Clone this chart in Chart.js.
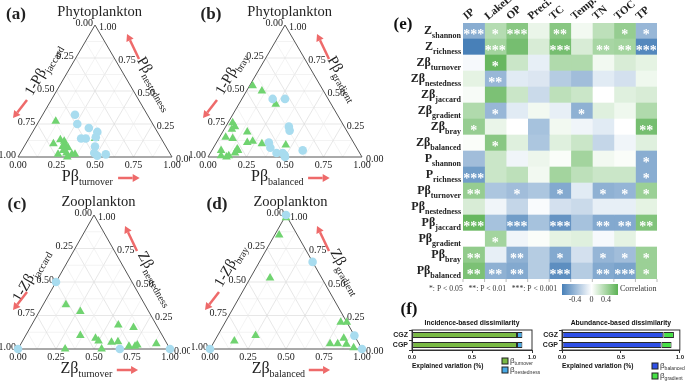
<!DOCTYPE html>
<html>
<head>
<meta charset="utf-8">
<script src="https://cdn.jsdelivr.net/npm/chart.js@4.4.1/dist/chart.umd.min.js"></script>
<style>
  html, body { margin: 0; padding: 0; background: #fff; }
  body { width: 685px; height: 381px; position: relative; overflow: hidden; }
  canvas { position: absolute; }
</style>
</head>
<body>
<canvas id="terA" width="190" height="190" style="left:0;top:0"></canvas>
<canvas id="terB" width="200" height="190" style="left:190px;top:0"></canvas>
<canvas id="terC" width="190" height="191" style="left:0;top:190px"></canvas>
<canvas id="terD" width="200" height="191" style="left:192px;top:190px"></canvas>
<canvas id="heat" width="325" height="320" style="left:360px;top:0"></canvas>
<canvas id="incid" width="160" height="69" style="left:380px;top:312px"></canvas>
<canvas id="abund" width="155" height="69" style="left:530px;top:312px"></canvas>
<script>
// ternary data: bottom axis value + right axis value (the rest is similarity)
// (a) phytoplankton, incidence based
const aTriTurn = [0.11, 0.18, 0.21, 0.24, 0.26, 0.25, 0.27, 0.30, 0.34, 0.36, 0.32, 0.43, 0.29, 0.25];
const aTriNest = [0.27, 0.10, 0.13, 0.12, 0.09, 0.02, 0.05, 0.03, 0.02, 0.02, 0.00, 0.14, 0.07, 0.08];
const aCirTurn = [0.21, 0.26, 0.35, 0.42, 0.43, 0.34, 0.37, 0.46, 0.48, 0.56, 0.51];
const aCirNest = [0.32, 0.25, 0.22, 0.19, 0.15, 0.14, 0.14, 0.08, 0.03, 0.02, 0.01];
// (b) phytoplankton, abundance based
const bTriBal = [0.02, 0.10, 0.24, 0.03, 0.06, 0.05, 0.04, 0.09, 0.16, 0.20, 0.23, 0.16, 0.16, 0.06, 0.08, 0.12, 0.30, 0.46, 0.13, 0.17];
const bTriGrad = [0.54, 0.50, 0.40, 0.26, 0.23, 0.21, 0.15, 0.14, 0.19, 0.11, 0.12, 0.06, 0.03, 0.05, 0.01, 0.00, 0.10, 0.09, 0.01, 0.05];
const bCirBal = [0.20, 0.28, 0.41, 0.43, 0.34, 0.37, 0.43, 0.47, 0.50, 0.59, 0.49];
const bCirGrad = [0.44, 0.44, 0.23, 0.20, 0.11, 0.07, 0.03, 0.03, 0.00, 0.05, 0.015];
// (c) zooplankton, incidence based
const cTriTurn = [0.15, 0.27, 0.57, 0.68, 0.36, 0.47, 0.50, 0.59, 0.63, 0.72, 0.76, 0.77, 0.89, 0.31, 0.55];
const cTriNest = [0.33, 0.28, 0.18, 0.16, 0.10, 0.08, 0.06, 0.05, 0.055, 0.02, 0.02, 0.03, 0.04, 0.00, 0.00];
const cCirTurn = [0, 1, 0, 0.67];
const cCirNest = [0, 0, 0.5, 0];
// (d) zooplankton, abundance based
const dTriBal = [0.01, 0.03, 0.13, 0.13, 0.25, 0.76, 0.80, 0.84, 0.77, 0.82, 0.88, 0.94];
const dTriGrad = [0.98, 0.85, 0.53, 0.06, 0.10, 0.20, 0.20, 0.08, 0.04, 0.04, 0.035, 0.01];
const dCirBal = [0, 0.35, 0.90, 0, 1];
const dCirGrad = [1, 0.65, 0.10, 0, 0];
const ternTicks = [0, 0.25, 0.5, 0.75, 1];

// (e) correlation heatmap
const envVars = ['IP', 'LakeL.', 'OP', 'Preci.', 'TC', 'Temp.', 'TN', 'TOC', 'TP'];
const rowMain = ['Z', 'Z', 'Zβ', 'Zβ', 'Zβ', 'Zβ', 'Zβ', 'Zβ', 'P', 'P', 'Pβ', 'Pβ', 'Pβ', 'Pβ', 'Pβ', 'Pβ'];
const rowSub = ['shannon', 'richness', 'turnover', 'nestedness', 'jaccard', 'gradient', 'bray', 'balanced',
  'shannon', 'richness', 'turnover', 'nestedness', 'jaccard', 'gradient', 'bray', 'balanced'];
const corr = [
  [-0.40, 0.28, 0.45, 0.08, 0.45, 0.05, 0.25, 0.40, -0.35],
  [-0.62, 0.35, 0.52, 0.15, 0.52, 0.15, 0.33, 0.35, -0.58],
  [-0.03, 0.58, 0.20, -0.08, 0.30, 0.30, 0.05, 0.15, 0.10],
  [0.10, -0.35, -0.10, -0.12, -0.25, -0.32, -0.10, -0.15, 0.06],
  [0.03, 0.50, 0.20, -0.18, 0.25, 0.20, 0.00, 0.12, 0.15],
  [0.30, -0.35, -0.10, 0.05, -0.08, -0.38, 0.12, 0.06, 0.30],
  [0.40, 0.08, 0.00, -0.30, 0.05, -0.05, -0.10, 0.00, 0.52],
  [0.02, 0.45, 0.12, -0.28, 0.12, 0.20, -0.20, -0.05, 0.12],
  [-0.32, 0.20, -0.05, 0.07, 0.02, 0.35, 0.05, 0.02, -0.40],
  [-0.48, 0.20, 0.25, 0.05, 0.35, 0.25, 0.20, 0.20, -0.40],
  [0.40, -0.28, -0.32, -0.28, -0.42, -0.10, -0.38, -0.36, 0.38],
  [0.15, -0.05, -0.20, -0.02, -0.15, -0.18, -0.08, -0.08, 0.10],
  [0.58, -0.30, -0.48, -0.30, -0.52, -0.30, -0.42, -0.42, 0.48],
  [0.00, 0.35, -0.05, 0.02, 0.10, 0.12, -0.03, 0.10, 0.00],
  [0.42, -0.08, -0.38, -0.25, -0.42, -0.15, -0.36, -0.32, 0.38],
  [0.50, -0.38, -0.42, -0.25, -0.55, -0.25, -0.42, -0.45, 0.38]
];
const stars = [
  ['***', '*', '***', '', '**', '', '', '*', '*'],
  ['', '***', '', '', '***', '', '**', '**', '***'],
  ['', '*', '', '', '', '', '', '', ''],
  ['', '**', '', '', '', '', '', '', ''],
  ['', '', '', '', '', '', '', '', ''],
  ['', '*', '', '', '', '*', '', '', ''],
  ['*', '', '', '', '', '', '', '', '**'],
  ['', '*', '', '', '', '', '', '', ''],
  ['', '', '', '', '', '', '', '', '*'],
  ['***', '', '', '', '', '', '', '', '*'],
  ['**', '', '*', '', '*', '', '*', '*', '*'],
  ['', '', '', '', '', '', '', '', ''],
  ['***', '', '***', '', '***', '', '**', '**', '**'],
  ['', '*', '', '', '', '', '', '', ''],
  ['**', '', '**', '', '*', '', '*', '*', '*'],
  ['**', '**', '**', '', '***', '', '**', '***', '*']
];
const cbarTicks = ['-0.4', '0', '0.4'];

// (f) explained variation
const fCats = ['CGZ', 'CGP'];
const incTurnover = [0.875, 0.875];
const incNested = [0.045, 0.045];
const abuBalanced = [0.86, 0.845];
const abuGradient = [0.09, 0.085];

const SERIF = '"Liberation Serif", "Times New Roman", serif';
const SANS = '"Liberation Sans", Arial, sans-serif';
const H3 = Math.sqrt(3) / 2;

// text with a subscript part
function subText(ctx, main, sub, x, y, o) {
  const size = o.size, ss = o.sub || size * 0.62, w = o.bold ? 'bold ' : '';
  const fam = o.family || SERIF;
  ctx.save();
  ctx.translate(x, y);
  if (o.angle) ctx.rotate(o.angle * Math.PI / 180);
  ctx.fillStyle = o.color || '#222';
  ctx.textBaseline = 'alphabetic';
  ctx.textAlign = 'left';
  ctx.font = w + size + 'px ' + fam;
  const w1 = ctx.measureText(main).width;
  ctx.font = w + ss + 'px ' + fam;
  const w2 = ctx.measureText(sub).width;
  const x0 = o.align === 'right' ? -(w1 + w2) : o.align === 'left' ? 0 : -(w1 + w2) / 2;
  const base = size * 0.35;
  ctx.font = w + size + 'px ' + fam;
  ctx.fillText(main, x0, base);
  ctx.font = w + ss + 'px ' + fam;
  ctx.fillText(sub, x0 + w1, base + size * 0.28);
  ctx.restore();
}

function arrow(ctx, x1, y1, x2, y2) {
  const a = Math.atan2(y2 - y1, x2 - x1), hl = 7, hw = 4;
  const bx = x2 - hl * Math.cos(a), by = y2 - hl * Math.sin(a);
  ctx.save();
  ctx.strokeStyle = ctx.fillStyle = '#ee6a6a';
  ctx.lineWidth = 2.5;
  ctx.beginPath();
  ctx.moveTo(x1, y1);
  ctx.lineTo(bx, by);
  ctx.stroke();
  ctx.beginPath();
  ctx.moveTo(x2, y2);
  ctx.lineTo(bx + hw * Math.sin(a), by - hw * Math.cos(a));
  ctx.lineTo(bx - hw * Math.sin(a), by + hw * Math.cos(a));
  ctx.closePath();
  ctx.fill();
  ctx.restore();
}

// grid, frame, tick labels and titles of a ternary panel
const ternaryFrame = {
  id: 'ternaryFrame',
  beforeDatasetsDraw(chart, args, p) {
    const ctx = chart.ctx, xs = chart.scales.x, ys = chart.scales.y;
    const P = (t, n) => [xs.getPixelForValue(t + n / 2), ys.getPixelForValue(n * H3)];
    const seg = (a, b) => { ctx.beginPath(); ctx.moveTo(a[0], a[1]); ctx.lineTo(b[0], b[1]); ctx.stroke(); };
    ctx.save();
    ctx.lineWidth = 0.7;
    for (let k = 1; k < 8; k++) {
      const c = k / 8;
      ctx.strokeStyle = k % 2 ? '#eeeeee' : '#dcdcdc';
      seg(P(0, c), P(1 - c, c));
      seg(P(c, 0), P(c, 1 - c));
      seg(P(1 - c, 0), P(0, 1 - c));
    }
    ctx.strokeStyle = '#555';
    ctx.lineWidth = 1;
    ctx.beginPath();
    ctx.moveTo(...P(0, 0)); ctx.lineTo(...P(1, 0)); ctx.lineTo(...P(0, 1));
    ctx.closePath();
    ctx.stroke();

    ctx.fillStyle = '#222';
    ctx.font = '10px ' + SERIF;
    ctx.textBaseline = 'middle';
    ternTicks.forEach(v => {
      const s = v.toFixed(2);
      let q = P(v, 0);
      ctx.textAlign = 'center'; ctx.fillText(s, q[0], q[1] + 8);
      q = P(0, 1 - v);
      ctx.textAlign = 'right'; ctx.fillText(s, q[0] - 2, q[1] - 2);
      q = P(1 - v, v);
      ctx.textAlign = 'left'; ctx.fillText(s, q[0] + 4, q[1] + 2);
    });

    const L = xs.getPixelForValue(0), R = xs.getPixelForValue(1);
    const B = ys.getPixelForValue(0), T = ys.getPixelForValue(H3);
    const W = R - L;
    ctx.textAlign = 'center';
    ctx.font = '14.5px ' + SERIF;
    ctx.fillText(p.title, L + 0.53 * W, T - 13);
    ctx.font = 'bold 17px ' + SERIF;
    ctx.fillText(p.label, p.labelX, 15);

    subText(ctx, p.pre + 'β', p.axes[0], L + 0.45 * W, B + 18, { size: 16, sub: 10 });
    arrow(ctx, L + 0.65 * W, B + 21, L + 0.79 * W, B + 21);
    subText(ctx, '1-' + p.pre + 'β', p.axes[1], L + p.leftPos[0], B + p.leftPos[1], { size: 15, sub: 10, angle: -60 });
    arrow(ctx, L + 9, B - 57, L - 5, B - 39);
    subText(ctx, p.pre + 'β', p.axes[2], R + p.rightPos[0], B + p.rightPos[1], { size: 15, sub: 10, angle: 60 });
    arrow(ctx, R - 33, B - 98, R - 45, B - 123);
    ctx.restore();
  }
};

function ternPoints(ts, ns) {
  return ts.map((t, i) => ({ x: t + ns[i] / 2, y: ns[i] * H3 }));
}

function ternaryChart(id, cfg) {
  return new Chart(document.getElementById(id), {
    type: 'scatter',
    data: {
      datasets: [
        { data: ternPoints(cfg.cirA, cfg.cirB), pointStyle: 'circle', pointRadius: 4.3,
          backgroundColor: '#a8dcef', borderWidth: 0, clip: false },
        { data: ternPoints(cfg.triA, cfg.triB), pointStyle: 'triangle', pointRadius: 5,
          backgroundColor: '#70d370', borderWidth: 0, clip: false }
      ]
    },
    options: {
      responsive: false,
      animation: false,
      layout: { padding: cfg.pad },
      scales: {
        x: { type: 'linear', min: 0, max: 1, display: false },
        y: { type: 'linear', min: 0, max: H3, display: false }
      },
      plugins: { legend: { display: false }, tooltip: { enabled: false }, ternaryFrame: cfg }
    },
    plugins: [ternaryFrame]
  });
}

ternaryChart('terA', { title: 'Phytoplankton', label: '(a)', labelX: 16, pre: 'P',
  axes: ['turnover', 'jaccard', 'nestedness'], triA: aTriTurn, triB: aTriNest, cirA: aCirTurn, cirB: aCirNest,
  pad: { left: 18, right: 18, top: 25, bottom: 33 }, leftPos: [24, -88], rightPos: [-16, -74] });
ternaryChart('terB', { title: 'Phytoplankton', label: '(b)', labelX: 21, pre: 'P',
  axes: ['balanced', 'bray', 'gradient'], triA: bTriBal, triB: bTriGrad, cirA: bCirBal, cirB: bCirGrad,
  pad: { left: 18, right: 28, top: 25, bottom: 33 }, leftPos: [22, -84], rightPos: [-18, -79] });
ternaryChart('terC', { title: 'Zooplankton', label: '(c)', labelX: 17, pre: 'Z',
  axes: ['turnover', 'jaccard', 'nestedness'], triA: cTriTurn, triB: cTriNest, cirA: cCirTurn, cirB: cCirNest,
  pad: { left: 18, right: 20, top: 25, bottom: 32 }, leftPos: [12, -74], rightPos: [-13, -71] });
ternaryChart('terD', { title: 'Zooplankton', label: '(d)', labelX: 25, pre: 'Z',
  axes: ['balanced', 'bray', 'gradient'], triA: dTriBal, triB: dTriGrad, cirA: dCirBal, cirB: dCirGrad,
  pad: { left: 18, right: 30, top: 25, bottom: 32 }, leftPos: [19, -84], rightPos: [-15, -78] });

// blue -> white -> green
function corrColor(v) {
  const a = Math.min(Math.abs(v) / 0.62, 1);
  const c = v < 0 ? [72, 128, 184] : [92, 178, 84];
  const m = k => Math.round(255 + (c[k] - 255) * a);
  return `rgb(${m(0)}, ${m(1)}, ${m(2)})`;
}

const heatDecor = {
  id: 'heatDecor',
  afterDatasetsDraw(chart) {
    const ctx = chart.ctx, xs = chart.scales.x, ys = chart.scales.y, area = chart.chartArea;
    ctx.save();
    // stars
    ctx.fillStyle = '#fff';
    ctx.font = 'bold 14px ' + SERIF;
    ctx.textAlign = 'center';
    ctx.textBaseline = 'alphabetic';
    stars.forEach((row, i) => row.forEach((s, j) => {
      if (s) ctx.fillText(s, xs.getPixelForValue(j + 0.5), ys.getPixelForValue(i) + 8);
    }));
    // row labels
    rowSub.forEach((s, i) => {
      subText(ctx, rowMain[i], s, area.left - 2, ys.getPixelForValue(i) - 1, { size: 12, sub: 8, bold: true, align: 'right' });
    });
    // column labels
    ctx.fillStyle = '#222';
    ctx.font = 'bold 11px ' + SERIF;
    ctx.textAlign = 'left';
    envVars.forEach((v, j) => {
      ctx.save();
      ctx.translate(xs.getPixelForValue(j + 0.5) - 7, area.top - 3);
      ctx.rotate(-40 * Math.PI / 180);
      ctx.fillText(v, 0, 0);
      ctx.restore();
    });
    // small ticks under the cells
    ctx.strokeStyle = '#aaa';
    ctx.lineWidth = 0.8;
    for (let j = 0; j <= envVars.length; j++) {
      const x = xs.getPixelForValue(j);
      ctx.beginPath(); ctx.moveTo(x, area.bottom); ctx.lineTo(x, area.bottom + 3); ctx.stroke();
    }
    // panel labels
    ctx.fillStyle = '#111';
    ctx.font = 'bold 17px ' + SERIF;
    ctx.textAlign = 'center';
    ctx.textBaseline = 'middle';
    ctx.fillText('(e)', 43, 25);
    ctx.fillText('(f)', 49, 310);
    // significance key
    ctx.font = '8px ' + SERIF;
    ctx.textAlign = 'left';
    ctx.fillStyle = '#333';
    ctx.fillText('*: P < 0.05   **: P < 0.01   ***: P < 0.001', 69, 289, 128);
    // colour bar
    const cx = 202, cw = 56, cy = 284, ch = 11;
    const g = ctx.createLinearGradient(cx, 0, cx + cw, 0);
    g.addColorStop(0, corrColor(-0.62));
    g.addColorStop(0.53, '#ffffff');
    g.addColorStop(1, corrColor(0.62));
    ctx.fillStyle = g;
    ctx.fillRect(cx, cy, cw, ch);
    ctx.fillStyle = '#333';
    ctx.fillText('Correlation', 260, 289);
    ctx.textAlign = 'center';
    [215, 231.5, 246].forEach((x, k) => ctx.fillText(cbarTicks[k], x, 300));
    ctx.restore();
  }
};

new Chart(document.getElementById('heat'), {
  type: 'bar',
  data: {
    labels: rowSub.map((s, i) => rowMain[i] + s),
    datasets: envVars.map((v, j) => ({
      label: v,
      data: corr.map(() => 1),
      backgroundColor: corr.map(r => corrColor(r[j])),
      borderWidth: 0,
      barPercentage: 1,
      categoryPercentage: 1
    }))
  },
  options: {
    indexAxis: 'y',
    responsive: false,
    animation: false,
    layout: { padding: { left: 103, right: 28, top: 23, bottom: 41 } },
    scales: {
      x: { stacked: true, min: 0, max: envVars.length, display: false },
      y: { stacked: true, display: false }
    },
    plugins: { legend: { display: false }, tooltip: { enabled: false } }
  },
  plugins: [heatDecor]
});

// frame, title, x title and legend of the (f) bar charts
const fDecor = {
  id: 'fDecor',
  afterDraw(chart, args, p) {
    const ctx = chart.ctx, a = chart.chartArea;
    ctx.save();
    ctx.strokeStyle = '#333';
    ctx.lineWidth = 1;
    ctx.strokeRect(a.left, a.top, a.right - a.left, a.bottom - a.top);
    ctx.fillStyle = '#111';
    ctx.textBaseline = 'middle';
    ctx.textAlign = 'center';
    ctx.font = 'bold 6.8px ' + SANS;
    ctx.fillText(p.title, (a.left + a.right) / 2, a.top - 7);
    ctx.textAlign = 'left';
    ctx.font = 'bold 6.5px ' + SANS;
    ctx.fillText('Explained variation (%)', a.left, a.bottom + 16);
    chart.data.datasets.forEach((ds, k) => {
      const y = p.legendY[k];
      ctx.fillStyle = ds.backgroundColor;
      ctx.fillRect(p.legendX, y - 3, 6, 6);
      ctx.strokeStyle = '#222';
      ctx.strokeRect(p.legendX, y - 3, 6, 6);
      subText(ctx, 'β', ds.label, p.legendX + 8, y - 1, { size: 8, sub: 5, family: SANS, color: '#333', align: 'left' });
    });
    ctx.restore();
  }
};

function dissimChart(id, title, labels, series, colors, legendY) {
  return new Chart(document.getElementById(id), {
    type: 'bar',
    data: {
      labels: fCats,
      datasets: series.map((s, k) => ({
        label: labels[k],
        data: s,
        backgroundColor: colors[k],
        borderColor: '#2a2a2a',
        borderWidth: 1,
        borderSkipped: false,
        barPercentage: 0.62,
        categoryPercentage: 1
      }))
    },
    options: {
      indexAxis: 'y',
      responsive: false,
      animation: false,
      layout: { padding: { left: 10, right: id === 'incid' ? 8 : 5, top: 18, bottom: 21 } },
      scales: {
        x: {
          stacked: true, min: 0, max: 1,
          afterFit: s => { s.height = 10; },
          ticks: { stepSize: 0.5, maxRotation: 0, autoSkip: false, callback: v => v.toFixed(1),
            font: { family: SANS, size: 6, weight: 'bold' }, color: '#222', padding: 1 },
          grid: { drawOnChartArea: false, tickLength: 3, color: '#333' },
          border: { color: '#333' }
        },
        y: {
          stacked: true,
          afterFit: s => { s.width = 22; },
          ticks: { autoSkip: false, font: { family: SANS, size: 7, weight: 'bold' }, color: '#222', padding: 1 },
          grid: { drawOnChartArea: false, tickLength: 3, color: '#333' },
          border: { color: '#333' }
        }
      },
      plugins: {
        legend: { display: false }, tooltip: { enabled: false },
        fDecor: { title: title, legendX: 122, legendY: legendY }
      }
    },
    plugins: [fDecor]
  });
}

dissimChart('incid', 'Incidence-based dissimilarity', ['turnover', 'nestedness'],
  [incTurnover, incNested], ['#79b944', '#49aae6'], [49, 58]);
dissimChart('abund', 'Abundance-based dissimilarity', ['balanced', 'gradient'],
  [abuBalanced, abuGradient], ['#2f50e6', '#46e046'], [54, 64]);
</script>
</body>
</html>
